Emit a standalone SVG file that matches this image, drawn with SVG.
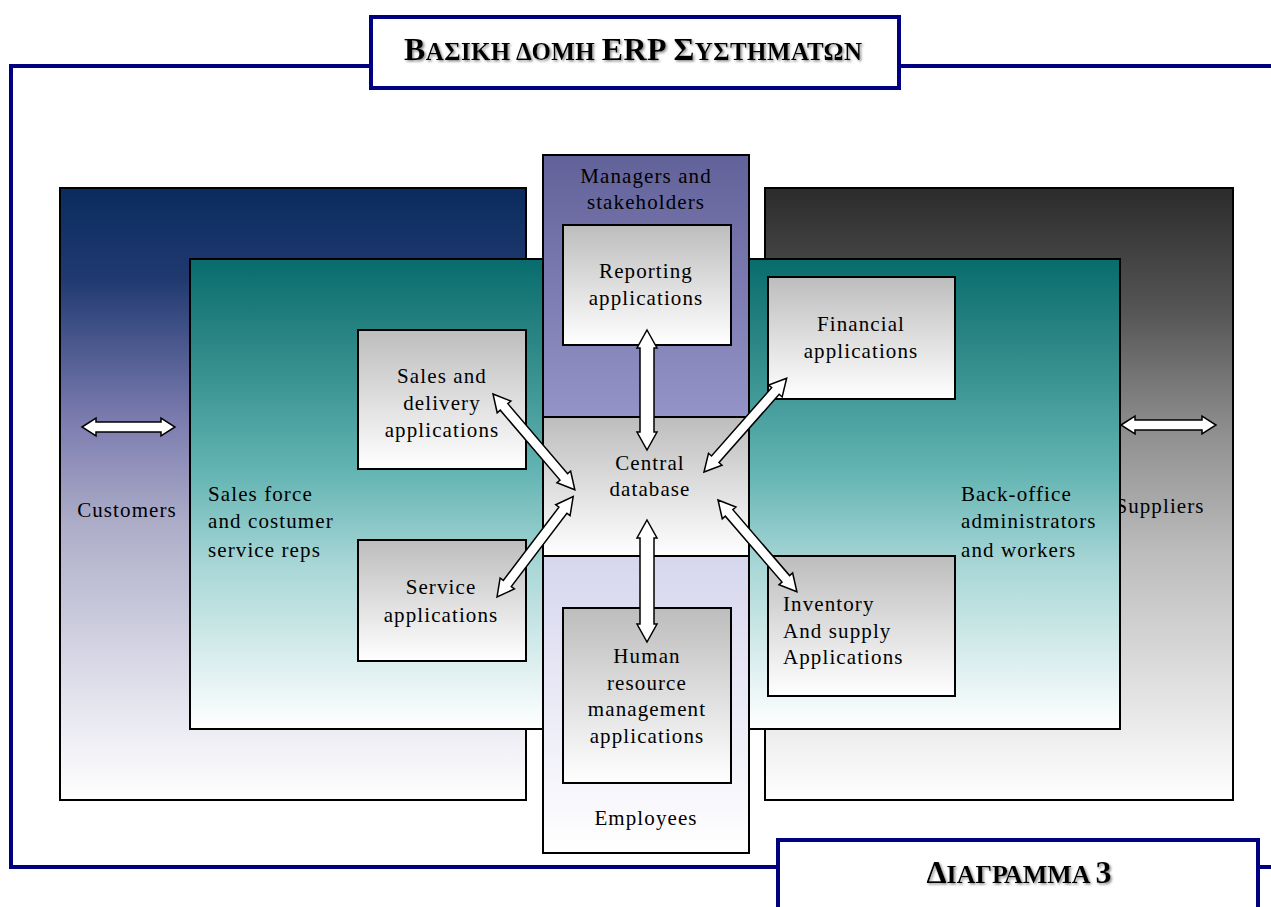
<svg xmlns="http://www.w3.org/2000/svg" width="1271" height="907" viewBox="0 0 1271 907">
  <defs>
    <linearGradient id="gCustomers" x1="0" y1="0" x2="0" y2="1">
      <stop offset="0" stop-color="#0a2b5e"/>
      <stop offset="0.15" stop-color="#203a70"/>
      <stop offset="0.38" stop-color="#7c7cb0"/>
      <stop offset="0.55" stop-color="#adadc8"/>
      <stop offset="0.85" stop-color="#e6e6f0"/>
      <stop offset="1" stop-color="#ffffff"/>
    </linearGradient>
    <linearGradient id="gSuppliers" x1="0" y1="0" x2="0" y2="1">
      <stop offset="0" stop-color="#2b2b2b"/>
      <stop offset="0.2" stop-color="#555555"/>
      <stop offset="0.4" stop-color="#8f8f8f"/>
      <stop offset="0.6" stop-color="#bdbdbd"/>
      <stop offset="1" stop-color="#ffffff"/>
    </linearGradient>
    <linearGradient id="gTeal" x1="0" y1="0" x2="0" y2="1">
      <stop offset="0" stop-color="#086c6c"/>
      <stop offset="0.2" stop-color="#2f8a88"/>
      <stop offset="0.45" stop-color="#62b4b2"/>
      <stop offset="0.65" stop-color="#a8d6d6"/>
      <stop offset="1" stop-color="#ffffff"/>
    </linearGradient>
    <linearGradient id="gManagers" x1="0" y1="0" x2="0" y2="1">
      <stop offset="0" stop-color="#62629a"/>
      <stop offset="1" stop-color="#9494c8"/>
    </linearGradient>
    <linearGradient id="gEmployees" x1="0" y1="0" x2="0" y2="1">
      <stop offset="0" stop-color="#d6d6ee"/>
      <stop offset="1" stop-color="#ffffff"/>
    </linearGradient>
    <linearGradient id="gApp" x1="0" y1="0" x2="0" y2="1">
      <stop offset="0" stop-color="#bdbdbd"/>
      <stop offset="1" stop-color="#ffffff"/>
    </linearGradient>
    <filter id="shadow" x="-5%" y="-20%" width="110%" height="150%">
      <feDropShadow dx="1.5" dy="1.5" stdDeviation="0.8" flood-color="#808080" flood-opacity="0.9"/>
    </filter>
  </defs>
  <style>
    .frame { fill: none; stroke: #000080; stroke-width: 4; }
    .tbox { fill: #ffffff; stroke: #000080; stroke-width: 4; }
    .area { stroke: #000000; stroke-width: 2; }
    .app { fill: url(#gApp); stroke: #000000; stroke-width: 2; }
    .lbl { font-family: "Liberation Serif", "Times New Roman", serif; font-size: 21px; fill: #000000; letter-spacing: 1.1px; }
    .mid { text-anchor: middle; }
    .ttl { font-family: "Liberation Serif", "Times New Roman", serif; font-weight: bold; fill: #000000; filter: url(#shadow); }
    .arrow { fill: #ffffff; stroke: #000000; stroke-width: 1.5; stroke-linejoin: miter; }
  </style>

  <rect width="1271" height="907" fill="#ffffff"/>

  <!-- outer page frame -->
  <g id="frame">
    <polyline class="frame" points="371,66 11,66 11,867 778,867"/>
    <line class="frame" x1="899" y1="66" x2="1271" y2="66"/>
    <line class="frame" x1="1258" y1="867" x2="1271" y2="867"/>
  </g>

  <!-- heading -->
  <g id="title">
    <rect class="tbox" x="371" y="17" width="528" height="71"/>
    <text class="ttl" x="633" y="60" text-anchor="middle" textLength="458" lengthAdjust="spacing"><tspan font-size="32">Β</tspan><tspan font-size="25">ΑΣΙΚΗ ΔΟΜΗ </tspan><tspan font-size="32">ERP Σ</tspan><tspan font-size="25">ΥΣΤΗΜΑΤΩΝ</tspan></text>
  </g>

  <g id="customers">
    <rect class="area" x="60" y="188" width="466" height="612" fill="url(#gCustomers)"/>
    <text class="lbl mid" x="127" y="517">Customers</text>
  </g>

  <g id="suppliers">
    <rect class="area" x="765" y="188" width="468" height="612" fill="url(#gSuppliers)"/>
    <text class="lbl mid" x="1160" y="513">Suppliers</text>
  </g>

  <g id="staff">
    <rect class="area" x="190" y="259" width="930" height="470" fill="url(#gTeal)"/>
    <text class="lbl" x="208" y="501">Sales force</text>
    <text class="lbl" x="208" y="528">and costumer</text>
    <text class="lbl" x="208" y="557">service reps</text>
    <text class="lbl" x="961" y="501">Back-office</text>
    <text class="lbl" x="961" y="528">administrators</text>
    <text class="lbl" x="961" y="557">and workers</text>
  </g>

  <g id="managers">
    <rect class="area" x="543" y="155" width="206" height="262" fill="url(#gManagers)"/>
    <text class="lbl mid" x="646" y="183">Managers and</text>
    <text class="lbl mid" x="646" y="209">stakeholders</text>
  </g>

  <g id="employees">
    <rect class="area" x="543" y="556" width="206" height="297" fill="url(#gEmployees)"/>
    <text class="lbl mid" x="646" y="825">Employees</text>
  </g>

  <g id="central-database">
    <rect class="area" x="543" y="417" width="206" height="139" fill="url(#gApp)"/>
    <text class="lbl mid" x="650" y="470">Central</text>
    <text class="lbl mid" x="650" y="496">database</text>
  </g>

  <g id="reporting">
    <rect class="app" x="563" y="225" width="168" height="120"/>
    <text class="lbl mid" x="646" y="278">Reporting</text>
    <text class="lbl mid" x="646" y="305">applications</text>
  </g>

  <g id="sales-delivery">
    <rect class="app" x="358" y="330" width="168" height="139"/>
    <text class="lbl mid" x="442" y="383">Sales and</text>
    <text class="lbl mid" x="442" y="410">delivery</text>
    <text class="lbl mid" x="442" y="437">applications</text>
  </g>

  <g id="service">
    <rect class="app" x="358" y="540" width="168" height="121"/>
    <text class="lbl mid" x="441" y="594">Service</text>
    <text class="lbl mid" x="441" y="622">applications</text>
  </g>

  <g id="financial">
    <rect class="app" x="768" y="277" width="187" height="122"/>
    <text class="lbl mid" x="861" y="331">Financial</text>
    <text class="lbl mid" x="861" y="358">applications</text>
  </g>

  <g id="inventory">
    <rect class="app" x="768" y="556" width="187" height="140"/>
    <text class="lbl" x="783" y="611">Inventory</text>
    <text class="lbl" x="783" y="638">And supply</text>
    <text class="lbl" x="783" y="664">Applications</text>
  </g>

  <g id="human-resources">
    <rect class="app" x="563" y="608" width="168" height="175"/>
    <text class="lbl mid" x="647" y="663">Human</text>
    <text class="lbl mid" x="647" y="690">resource</text>
    <text class="lbl mid" x="647" y="716">management</text>
    <text class="lbl mid" x="647" y="743">applications</text>
  </g>

  <!-- two-way block arrows -->
  <g id="connectors">
    <polygon class="arrow" transform="translate(82,427)" points="0,0 14,-9 14,-5 79,-5 79,-9 93,0 79,9 79,5 14,5 14,9"/>
    <polygon class="arrow" transform="translate(1121,425)" points="0,0 14,-9 14,-5 81,-5 81,-9 95,0 81,9 81,5 14,5 14,9"/>
    <polygon class="arrow" transform="translate(647,330) rotate(90)" points="0,0 18,-10 18,-7 102,-7 102,-10 120,0 102,10 102,7 18,7 18,10"/>
    <polygon class="arrow" transform="translate(647,520) rotate(90)" points="0,0 18,-10 18,-7 104,-7 104,-10 122,0 104,10 104,7 18,7 18,10"/>
    <polygon class="arrow" transform="translate(493,394) rotate(49.5)" points="0,0 17,-9 17,-5 109,-5 109,-9 126,0 109,9 109,5 17,5 17,9"/>
    <polygon class="arrow" transform="translate(497,597) rotate(-52.8)" points="0,0 17,-9 17,-5 109,-5 109,-9 126,0 109,9 109,5 17,5 17,9"/>
    <polygon class="arrow" transform="translate(704,472) rotate(-48.6)" points="0,0 17,-9 17,-5 108,-5 108,-9 125,0 108,9 108,5 17,5 17,9"/>
    <polygon class="arrow" transform="translate(718,500) rotate(49.3)" points="0,0 17,-9 17,-5 104,-5 104,-9 121,0 104,9 104,5 17,5 17,9"/>
  </g>

  <!-- caption -->
  <g id="caption">
    <rect class="tbox" x="778" y="840" width="480" height="80"/>
    <text class="ttl" x="1019" y="883" text-anchor="middle" textLength="185" lengthAdjust="spacing"><tspan font-size="32">Δ</tspan><tspan font-size="26">ΙΑΓΡΑΜΜΑ </tspan><tspan font-size="32">3</tspan></text>
  </g>
</svg>
